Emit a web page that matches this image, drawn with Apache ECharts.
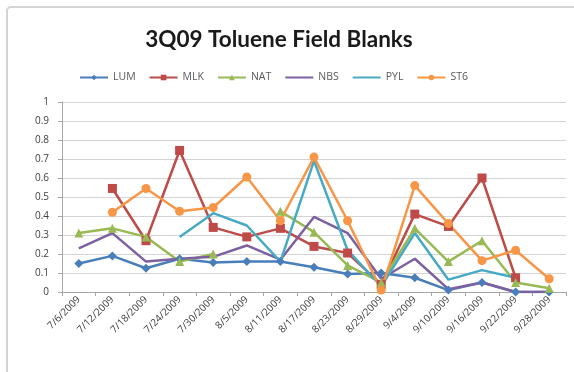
<!DOCTYPE html>
<html>
<head>
<meta charset="utf-8">
<script src="https://cdn.jsdelivr.net/npm/echarts@6/dist/echarts.min.js"></script>
<style>
  html, body { margin: 0; padding: 0; background: #fff; }
  #chart { width: 574px; height: 372px; }
</style>
</head>
<body>
<div id="chart"></div>
<script>
// Sample dates for the third quarter of 2009
const dates = ['7/6/2009', '7/12/2009', '7/18/2009', '7/24/2009', '7/30/2009', '8/5/2009',
  '8/11/2009', '8/17/2009', '8/23/2009', '8/29/2009', '9/4/2009', '9/10/2009',
  '9/16/2009', '9/22/2009', '9/28/2009'];

// Toluene field blank results per site (null = no sample)
const LUM = [0.15, 0.19, 0.125, 0.175, 0.155, 0.16, 0.16, 0.13, 0.095, 0.10, 0.075, 0.01, 0.05, 0.0, 0.0];
const MLK = [null, 0.545, 0.27, 0.745, 0.34, 0.29, 0.335, 0.24, 0.205, 0.04, 0.41, 0.345, 0.60, 0.075, null];
const NAT = [0.31, 0.335, 0.29, 0.16, 0.20, null, 0.425, 0.315, 0.14, 0.05, 0.335, 0.16, 0.27, 0.05, 0.02];
const NBS = [0.23, 0.31, 0.16, 0.175, 0.185, 0.245, 0.17, 0.395, 0.31, 0.07, 0.175, 0.015, 0.05, 0.0, 0.0];
const PYL = [null, null, null, 0.29, 0.415, 0.35, 0.16, 0.69, 0.22, 0.03, 0.31, 0.065, 0.115, 0.075, null];
const ST6 = [null, 0.42, 0.545, 0.425, 0.445, 0.605, 0.375, 0.71, 0.375, 0.01, 0.56, 0.36, 0.165, 0.22, 0.07];

const yTicks = { min: 0, max: 1, step: 0.1 };

const seriesDefs = [
  { name: 'LUM', data: LUM, color: '#4a7ebb', symbol: 'diamond', size: 9 },
  { name: 'MLK', data: MLK, color: '#be4b48', symbol: 'rect', size: 9 },
  { name: 'NAT', data: NAT, color: '#98b954', symbol: 'triangle', size: 9 },
  { name: 'NBS', data: NBS, color: '#7d60a0', symbol: 'none', size: 0 },
  { name: 'PYL', data: PYL, color: '#46aac5', symbol: 'none', size: 0 },
  { name: 'ST6', data: ST6, color: '#f79646', symbol: 'circle', size: 9 }
];

const chart = echarts.init(document.getElementById('chart'));
chart.setOption({
  animation: false,
  backgroundColor: '#fff',
  graphic: [{
    type: 'rect',
    shape: { x: 7, y: 7, width: 600, height: 400, r: 4 },
    style: { fill: 'none', stroke: '#d4d4d4', lineWidth: 2 },
    silent: true
  }],
  title: {
    text: '3Q09 Toluene Field Blanks',
    left: 274,
    textAlign: 'center',
    top: 23,
    textStyle: { fontFamily: 'Lato', fontWeight: 'bold', fontSize: 22.5, color: '#1a1a1a' }
  },
  legend: {
    top: 67,
    left: 74,
    itemWidth: 28,
    itemHeight: 7,
    itemGap: 13,
    textStyle: { fontFamily: 'Open Sans', fontSize: 10.5, color: '#595959' },
    data: seriesDefs.map(s => s.symbol === 'none'
      ? { name: s.name, itemStyle: { opacity: 0 } }
      : { name: s.name })
  },
  grid: { left: 62, right: 8, top: 102, bottom: 80 },
  xAxis: {
    type: 'category',
    data: dates,
    boundaryGap: true,
    axisLine: { lineStyle: { color: '#a6a6a6' } },
    axisTick: { show: true, interval: 0, length: 4, lineStyle: { color: '#a6a6a6' } },
    axisLabel: { rotate: 45, interval: 0, fontFamily: 'Open Sans', fontSize: 10, color: '#404040', margin: 6 }
  },
  yAxis: {
    type: 'value',
    min: yTicks.min,
    max: yTicks.max,
    interval: yTicks.step,
    axisLine: { show: true, lineStyle: { color: '#a6a6a6' } },
    axisTick: { show: true, length: 4, lineStyle: { color: '#a6a6a6' } },
    splitLine: { lineStyle: { color: '#d4d4d4', width: 1 } },
    axisLabel: { fontFamily: 'Open Sans', fontSize: 10, color: '#404040', margin: 13 }
  },
  series: seriesDefs.map(s => ({
    name: s.name,
    type: 'line',
    data: s.data,
    connectNulls: false,
    symbol: s.symbol,
    symbolSize: s.size,
    showSymbol: s.symbol !== 'none',
    lineStyle: { color: s.color, width: 2.5 },
    itemStyle: { color: s.color },
    emphasis: { disabled: true }
  }))
});
</script>
</body>
</html>
